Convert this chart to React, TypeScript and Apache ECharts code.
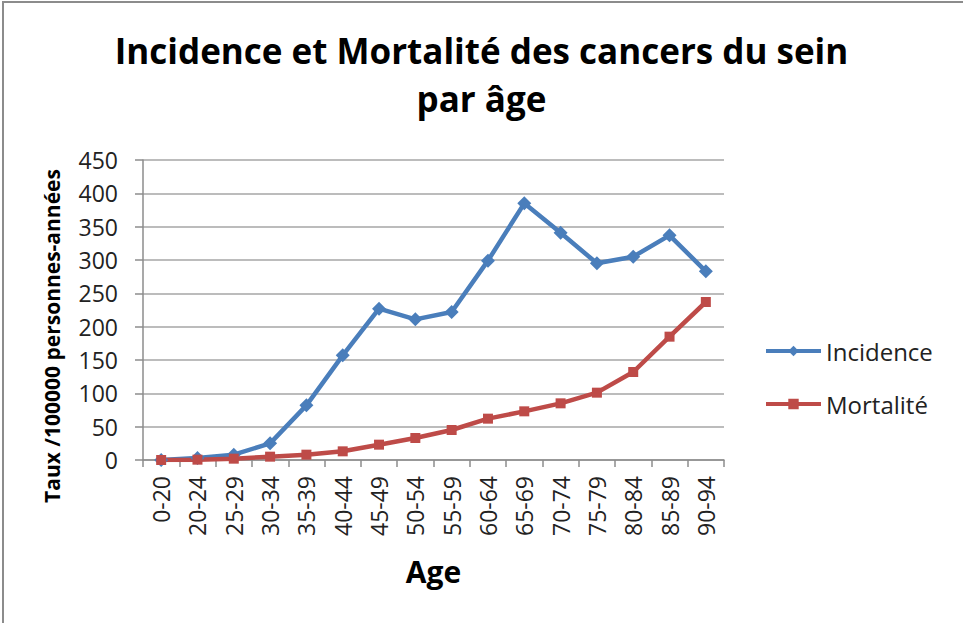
import React, { useEffect, useRef } from "react";
import * as echarts from "echarts";

const categories = ["0-20", "20-24", "25-29", "30-34", "35-39", "40-44", "45-49", "50-54", "55-59", "60-64", "65-69", "70-74", "75-79", "80-84", "85-89", "90-94"];
const incidence = [0, 3, 8, 25, 82, 157, 227, 211, 222, 299, 385, 341, 295, 305, 337, 283];
const mortality = [0, 0.5, 2, 5, 8, 13, 23, 33, 45, 62, 73, 85, 101, 132, 185, 237];
const yTicks = { min: 0, max: 450, interval: 50 };
const yTitle = "Taux /100000 personnes-années";

const FONT = "'Open Sans', 'DejaVu Sans', sans-serif";

export default function App() {
  const ref = useRef<HTMLDivElement>(null);
  useEffect(() => {
    document.body.style.margin = "0";
    const chart = echarts.init(ref.current!, undefined, { renderer: "svg" });
    chart.setOption({
      animation: false,
      backgroundColor: "#ffffff",
      title: {
        text: "Incidence et Mortalité des cancers du sein\npar âge",
        left: "center",
        top: 21,
        textStyle: { fontFamily: FONT, fontWeight: "bold", fontSize: 35, lineHeight: 48, color: "#000" },
      },
      graphic: [
        { type: "rect", shape: { x: 3, y: 2, width: 990, height: 660 }, style: { fill: "none", stroke: "#8c8c8c", lineWidth: 2 }, silent: true },
        {
          type: "text",
          x: 52,
          y: 336,
          rotation: Math.PI / 2,
          style: { text: yTitle, align: "center", verticalAlign: "middle", fontFamily: FONT, fontWeight: "bold", fontSize: 21, fill: "#000" },
          silent: true,
        },
      ],
      legend: {
        orient: "vertical",
        left: 759,
        top: 334,
        itemWidth: 55,
        itemHeight: 13,
        itemGap: 29,
        lineStyle: { width: 4 },
        textStyle: { fontFamily: FONT, fontSize: 24, color: "#222" },
        data: ["Incidence", "Mortalité"],
      },
      grid: { left: 143, right: 239, top: 160, bottom: 163, containLabel: false },
      xAxis: {
        type: "category",
        data: categories,
        boundaryGap: true,
        name: "Age",
        nameLocation: "middle",
        nameGap: 96,
        nameTextStyle: { fontFamily: FONT, fontWeight: "bold", fontSize: 30, color: "#000" },
        axisLine: { show: true, lineStyle: { color: "#8c8c8c", width: 1.5 } },
        axisTick: { show: true, length: 7, alignWithLabel: false, lineStyle: { color: "#8c8c8c", width: 1.5 } },
        axisLabel: { rotate: 90, margin: 16, fontFamily: FONT, fontSize: 23, color: "#222", interval: 0 },
        splitLine: { show: false },
      },
      yAxis: {
        type: "value",
        min: yTicks.min,
        max: yTicks.max,
        interval: yTicks.interval,
        axisLine: { show: true, lineStyle: { color: "#8c8c8c", width: 1.5 } },
        axisTick: { show: true, length: 8, lineStyle: { color: "#8c8c8c", width: 1.5 } },
        axisLabel: { margin: 25, fontFamily: FONT, fontSize: 23, color: "#222" },
        splitLine: { show: true, lineStyle: { color: "#a6a6a6", width: 1.5 } },
      },
      series: [
        {
          name: "Incidence",
          type: "line",
          data: incidence,
          symbol: "diamond",
          symbolSize: 14,
          itemStyle: { color: "#4A7EBB" },
          lineStyle: { color: "#4A7EBB", width: 4.5 },
        },
        {
          name: "Mortalité",
          type: "line",
          data: mortality,
          symbol: "rect",
          symbolSize: 10,
          itemStyle: { color: "#BE4B48" },
          lineStyle: { color: "#BE4B48", width: 4.5 },
        },
      ],
    });
    return () => chart.dispose();
  }, []);
  return <div ref={ref} style={{ position: "absolute", left: 0, top: 0, width: 963, height: 623 }} />;
}
